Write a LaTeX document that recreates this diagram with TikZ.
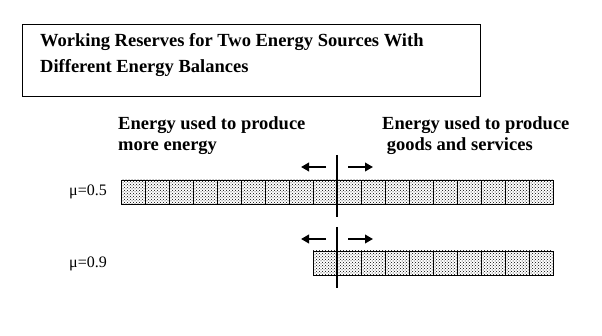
\documentclass[tikz,border=0pt]{standalone}
\usepackage{fontspec}
\setmainfont{Liberation Serif}
\usetikzlibrary{arrows.meta,patterns}
\begin{document}
\begin{tikzpicture}[x=1pt,y=-1pt, every node/.style={font=\bfseries\fontsize{18.5}{21}\selectfont, inner sep=0pt},
  cell/.style={draw, line width=0.8pt, pattern=crosshatch dots},
  divider/.style={line width=2.6pt},
  push/.style={line width=2.4pt, -{Triangle[length=8pt,width=8.5pt]}},
  mulabel/.style={font=\fontsize{16}{18}\selectfont, anchor=east}]
\useasboundingbox (0,0) rectangle (602,336);
\draw[line width=0.8pt] (22,24) rectangle (480,96);
\node[anchor=base west, align=left, font=\bfseries\fontsize{18.5}{26}\selectfont] (title) at (40,73)
  {Working Reserves for Two Energy Sources With\\Different Energy Balances};
\node[anchor=base west, align=left] (selfuse) at (118,151) {Energy used to produce\\more energy};
\node[anchor=base west, align=left] (enduse) at (382,151) {Energy used to produce\\\ goods and services};
% mu = 0.5
\foreach \i in {0,...,17} \draw[cell] (121+24*\i,180) rectangle ++(24,24);
\node[mulabel] (muA) at (107,192) {μ=0.5};
\coordinate (splitA top) at (337,155);
\coordinate (splitA bot) at (337,217);
\draw[divider] (splitA top) -- (splitA bot);
\coordinate (leftA) at (326,167);
\coordinate (rightA) at (348,167);
\draw[push] (leftA) -- ++(-25,0);
\draw[push] (rightA) -- ++(25,0);
% mu = 0.9
\foreach \i in {0,...,9} \draw[cell] (313+24*\i,251) rectangle ++(24,24);
\node[mulabel] (muB) at (107,264) {μ=0.9};
\coordinate (splitB top) at (337,227);
\coordinate (splitB bot) at (337,288);
\draw[divider] (splitB top) -- (splitB bot);
\coordinate (leftB) at (326,239);
\coordinate (rightB) at (348,239);
\draw[push] (leftB) -- ++(-25,0);
\draw[push] (rightB) -- ++(25,0);
\end{tikzpicture}
\end{document}
